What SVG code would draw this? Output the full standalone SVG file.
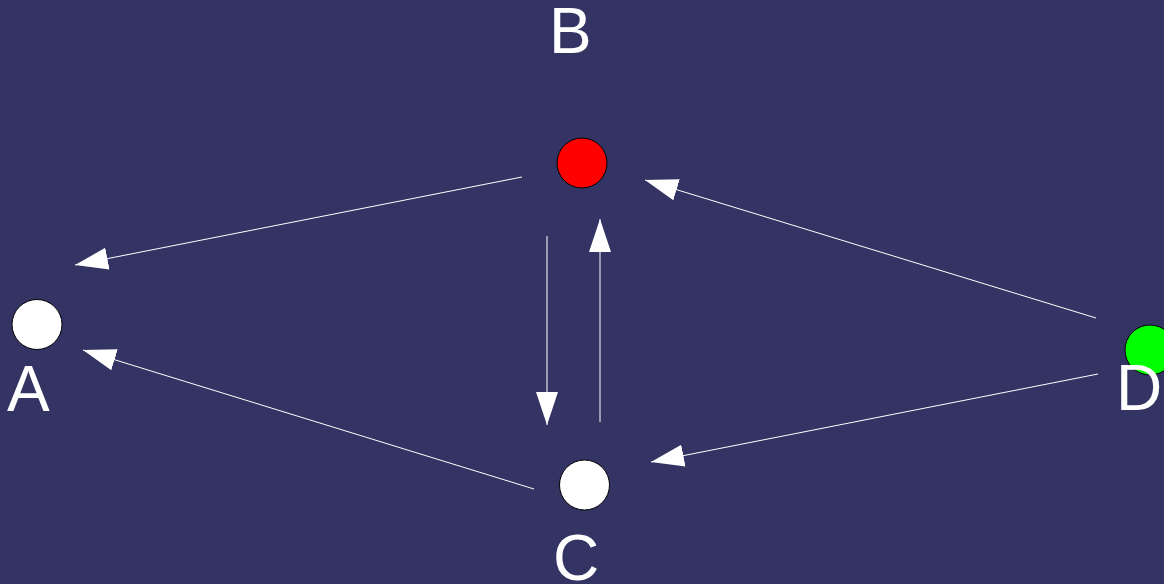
<svg xmlns="http://www.w3.org/2000/svg" width="1164" height="584" viewBox="0 0 1164 584">
<style>
.node{stroke:#000;stroke-width:1}
.lbl{font-family:"Liberation Sans",Arial,sans-serif;font-size:64px;fill:#fff}
.edge{stroke:#fff;stroke-width:1;fill:none;marker-end:url(#arr)}
</style>
<defs>
<marker id="arr" markerUnits="userSpaceOnUse" markerWidth="34" markerHeight="24" viewBox="0 0 34 24" refX="33" refY="12" orient="auto">
<path d="M0,1 L33,12 L0,23 z" fill="#fff"/>
</marker>
</defs>
<rect width="1164" height="584" fill="#343464"/>
<g id="connectors">
<line class="edge" x1="522" y1="177" x2="75" y2="265"/>
<line class="edge" x1="1096" y1="318" x2="645" y2="180"/>
<line class="edge" x1="547" y1="236" x2="547" y2="425"/>
<line class="edge" x1="600" y1="422" x2="600" y2="219"/>
<line class="edge" x1="534" y1="489" x2="83" y2="350"/>
<line class="edge" x1="1098" y1="374" x2="651" y2="462"/>
</g>
<g id="node-A">
<circle class="node" cx="37" cy="324.5" r="25" fill="#fff"/>
<text class="lbl" x="7" y="411">A</text>
</g>
<g id="node-B">
<circle class="node" cx="582" cy="163" r="25" fill="#f00"/>
<text class="lbl" x="549" y="53">B</text>
</g>
<g id="node-C">
<circle class="node" cx="584.5" cy="485" r="25" fill="#fff"/>
<text class="lbl" x="553" y="580">C</text>
</g>
<g id="node-D">
<circle class="node" cx="1150" cy="350" r="25" fill="#0f0"/>
<text class="lbl" x="1116" y="410">D</text>
</g>
</svg>
